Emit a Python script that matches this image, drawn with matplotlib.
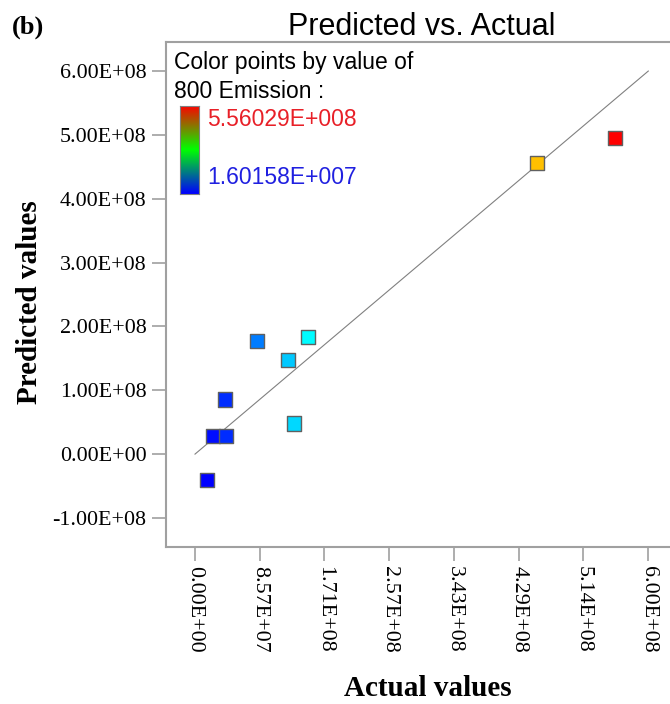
"""Predicted vs. Actual scatter, coloured by actual value."""

import matplotlib.pyplot as plt
import numpy as np
from matplotlib.colors import LinearSegmentedColormap

W, H = 670, 704

# data
actual = [0.16e8, 0.24e8, 0.41e8, 0.40e8, 0.82e8, 1.23e8, 1.31e8, 1.50e8, 4.53e8, 5.56e8]
predicted = [-0.41e8, 0.28e8, 0.28e8, 0.857e8, 1.775e8, 1.47e8, 0.48e8, 1.84e8, 4.56e8, 4.95e8]
x_ticks = [0, 0.857e8, 1.71e8, 2.57e8, 3.43e8, 4.29e8, 5.14e8, 6.00e8]
x_labels = ["0.00E+00", "8.57E+07", "1.71E+08", "2.57E+08", "3.43E+08",
            "4.29E+08", "5.14E+08", "6.00E+08"]
y_ticks = [-1e8, 0, 1e8, 2e8, 3e8, 4e8, 5e8, 6e8]
y_labels = ["-1.00E+08", "0.00E+00", "1.00E+08", "2.00E+08", "3.00E+08",
            "4.00E+08", "5.00E+08", "6.00E+08"]
c_min, c_max = 1.60158e7, 5.56029e8

SPINE = "#a0a0a0"
SERIF = ["Liberation Serif", "DejaVu Serif"]
SANS = ["Liberation Sans", "DejaVu Sans"]

point_cmap = LinearSegmentedColormap.from_list(
    "pts", ["#0000ff", "#00ffff", "#00ff00", "#ffff00", "#ff0000"])
bar_cmap = LinearSegmentedColormap.from_list("bar", ["#0000ff", "#00ff00", "#ff0000"])


def fx(px):
    return px / W


def fy(py):
    return 1 - py / H


fig = plt.figure(figsize=(W / 100, H / 100), dpi=100)
ax = fig.add_axes([fx(166), fy(547), (677 - 166) / W, (547 - 42) / H])

ax.plot([0, 6e8], [0, 6e8], color="#808080", lw=0.8, zorder=1)
ax.scatter(actual, predicted, c=actual, cmap=point_cmap, vmin=c_min, vmax=c_max,
           marker="s", s=105, edgecolors="#606060", linewidths=1.0, zorder=3)

ax.set_xlim(-3.84e7, 6.38e8)
ax.set_ylim(-1.455e8, 6.455e8)
ax.set_xticks(x_ticks)
ax.set_xticklabels(x_labels, rotation=-90, family=SERIF, fontsize=15.8)
ax.set_yticks(y_ticks)
ax.set_yticklabels(y_labels, family=SERIF, fontsize=15.8)
ax.tick_params(direction="out", length=10, width=1.2, color=SPINE, pad=4)

ax.spines["right"].set_visible(False)
for side in ("left", "bottom", "top"):
    ax.spines[side].set_color(SPINE)
    ax.spines[side].set_linewidth(1.5)

ax.set_title("Predicted vs. Actual", family=SANS, fontsize=22, pad=5)

fig.text(fx(30), fy(302), "Predicted values", rotation=90, ha="center", va="center",
         family=SERIF, fontsize=21, fontweight="bold")
fig.text(fx(428), fy(688), "Actual values", ha="center", va="center",
         family=SERIF, fontsize=21, fontweight="bold")
fig.text(fx(12), fy(27), "(b)", ha="left", va="center",
         family=SERIF, fontsize=19, fontweight="bold")

# colour key
fig.text(fx(174), fy(63), "Color points by value of", ha="left", va="center",
         family=SANS, fontsize=16.5)
fig.text(fx(174), fy(91), "800 Emission :", ha="left", va="center",
         family=SANS, fontsize=16.5)
fig.text(fx(207), fy(119), "5.56029E+008", ha="left", va="center",
         family=SANS, fontsize=16.5, color="#e82028")
fig.text(fx(207), fy(178), "1.60158E+007", ha="left", va="center",
         family=SANS, fontsize=16.5, color="#2020e0")

cax = fig.add_axes([fx(180), fy(194), 19 / W, 88 / H])
cax.imshow(np.linspace(1, 0, 200).reshape(-1, 1), aspect="auto", cmap=bar_cmap)
cax.set_xticks([])
cax.set_yticks([])
for s in cax.spines.values():
    s.set_color("#808080")

fig.savefig("out.png", dpi=100)
